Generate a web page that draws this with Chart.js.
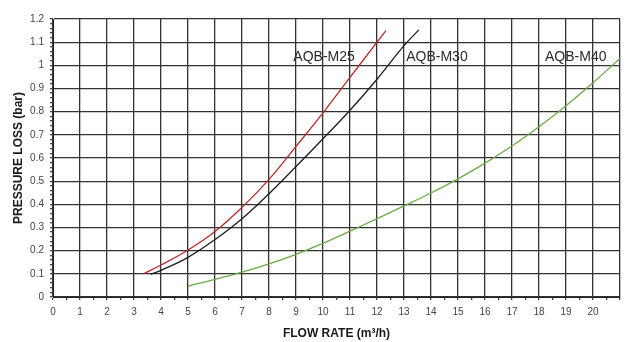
<!DOCTYPE html>
<html>
<head>
<meta charset="utf-8">
<script src="https://cdn.jsdelivr.net/npm/chart.js@4.4.1/dist/chart.umd.min.js"></script>
<style>
  html, body { margin: 0; padding: 0; background: #fff; }
  #wrap { width: 626px; height: 342px; }
</style>
</head>
<body>
<div id="wrap"><canvas id="lossChart"></canvas></div>
<script>
// curve points (flow m3/h -> loss bar)
const m25Flow = [3.35, 4, 5, 6, 7, 8, 9, 10, 11, 12, 12.33];
const m25Loss = [0.1, 0.138, 0.203, 0.283, 0.387, 0.508, 0.65, 0.795, 0.948, 1.1, 1.15];
const m30Flow = [3.62, 4, 5, 6, 7, 8, 9, 10, 11, 12, 13, 13.55];
const m30Loss = [0.098, 0.115, 0.171, 0.248, 0.338, 0.446, 0.563, 0.683, 0.806, 0.94, 1.085, 1.153];
const m40Flow = [5, 6, 7, 8, 9, 10, 11, 12, 13, 14, 15, 16, 17, 18, 19, 20, 21];
const m40Loss = [0.047, 0.076, 0.107, 0.143, 0.184, 0.232, 0.284, 0.338, 0.393, 0.449, 0.51, 0.578, 0.652, 0.735, 0.826, 0.925, 1.03];

const seriesNames = ['AQB-M25', 'AQB-M30', 'AQB-M40'];
const seriesColors = ['#b52a2a', '#1c1c1c', '#6aab45'];
const labelFlow = [10.04, 14.22, 19.36];
const labelLoss = [1.017, 1.017, 1.017];

const xMax = 21, xLastLabel = 20;
const yMax = 1.2;

const toPts = (xs, ys) => xs.map((v, i) => ({ x: v, y: ys[i] }));
const isMajorY = v => Math.abs(v * 10 - Math.round(v * 10)) < 1e-6;

const curveLabels = {
  id: 'curveLabels',
  afterDatasetsDraw(chart) {
    const { ctx, scales: { x, y } } = chart;
    ctx.save();
    ctx.font = '14px "Liberation Sans", Arial, sans-serif';
    ctx.fillStyle = '#2a2a2a';
    ctx.textAlign = 'center';
    ctx.textBaseline = 'alphabetic';
    seriesNames.forEach((t, i) => ctx.fillText(t, x.getPixelForValue(labelFlow[i]), y.getPixelForValue(labelLoss[i])));
    ctx.restore();
  }
};

const gridCol = '#333';
const font = { family: '"Liberation Sans", Arial, sans-serif', size: 10 };

new Chart(document.getElementById('lossChart'), {
  type: 'scatter',
  data: {
    datasets: [
      { label: seriesNames[0], data: toPts(m25Flow, m25Loss), borderColor: seriesColors[0] },
      { label: seriesNames[1], data: toPts(m30Flow, m30Loss), borderColor: seriesColors[1] },
      { label: seriesNames[2], data: toPts(m40Flow, m40Loss), borderColor: seriesColors[2] }
    ].map(d => Object.assign(d, { showLine: true, borderWidth: 1.3, pointRadius: 0, tension: 0.4, fill: false }))
  },
  options: {
    responsive: true,
    maintainAspectRatio: false,
    animation: false,
    layout: { padding: { top: 19, right: 1, left: 0, bottom: 0 } },
    plugins: { legend: { display: false }, tooltip: { enabled: false } },
    scales: {
      x: {
        type: 'linear', min: 0, max: xMax,
        afterFit: s => { s.height = 45; },
        ticks: {
          stepSize: 0.5, autoSkip: false, maxRotation: 0, padding: 6,
          color: '#444', font,
          callback: v => (Number.isInteger(v) && v <= xLastLabel) ? String(v) : ''
        },
        grid: {
          color: c => (c.tick && Number.isInteger(c.tick.value)) ? gridCol : 'rgba(0,0,0,0)',
          tickColor: '#444', tickLength: 3, lineWidth: 1.3
        },
        border: { color: '#222', width: 1 },
        title: {
          display: true, text: 'FLOW RATE (m³/h)', color: '#1a1a1a',
          font: { family: '"Liberation Sans", Arial, sans-serif', size: 12, weight: 'bold' },
          padding: { top: 0, bottom: 1 }
        }
      },
      y: {
        min: 0, max: yMax,
        afterFit: s => { s.width = 53; },
        ticks: {
          stepSize: 0.02, autoSkip: false, padding: 6,
          color: '#444', font,
          callback: v => isMajorY(v) ? String(Math.round(v * 10) / 10) : ''
        },
        grid: {
          color: c => (c.tick && isMajorY(c.tick.value)) ? gridCol : 'rgba(0,0,0,0)',
          tickColor: '#444', tickLength: 3, lineWidth: 1.3
        },
        border: { color: '#222', width: 1 },
        title: {
          display: true, text: 'PRESSURE LOSS (bar)', color: '#1a1a1a',
          font: { family: '"Liberation Sans", Arial, sans-serif', size: 12, weight: 'bold' },
          padding: { top: 11, bottom: 0 }
        }
      }
    }
  },
  plugins: [curveLabels]
});
</script>
</body>
</html>
